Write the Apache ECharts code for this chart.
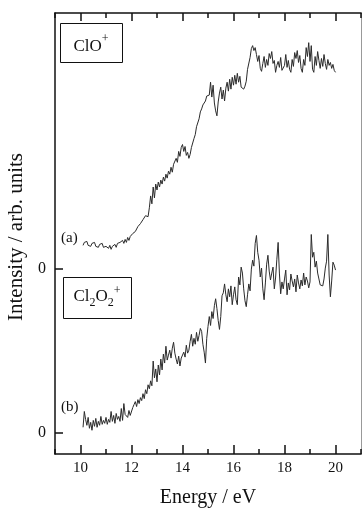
<!DOCTYPE html>
<html>
<head>
<meta charset="utf-8">
<script src="https://cdn.jsdelivr.net/npm/echarts@6/dist/echarts.min.js"></script>
<style>
  html, body { margin: 0; padding: 0; background: #fff; }
  #main { width: 362px; height: 513px; }
</style>
</head>
<body>
<div id="main"></div>
<script>
// energy grid of the spectra (eV)
const E_START = 10.1
const E_STEP = 0.05

// (a) ClO+ intensity, relative to its own zero line
const clo = [
  2.4, 2.7, 2.5, 2.8, 2.4, 2.6, 2.3, 2.6, 2.4, 2.7, 2.3, 2.5, 2.2, 2.5, 2.3, 2.6, 2.2, 2.4,
  2.3, 2.5, 2.1, 2.4, 2.0, 2.3, 2.1, 2.5, 2.2, 2.6, 2.4, 2.7, 2.5, 2.9, 2.6, 3.0, 2.7, 3.2, 2.9, 3.3,
  3.2, 3.6, 3.4, 3.8, 3.9, 4.3, 4.1, 4.6, 4.5, 5.0, 4.8, 5.4, 5.6, 5.3, 6.2, 7.4, 6.6, 8.3, 7.2, 8.6,
  8.0, 8.8, 8.3, 9.0, 8.6, 9.3, 8.9, 9.6, 9.2, 9.9, 9.6, 10.3, 9.8, 10.6, 10.4, 11.2, 10.8, 11.9, 11.4, 12.3,
  12.6, 11.9, 12.4, 11.5, 11.8, 11.2, 11.6, 12.3, 12.1, 13.2, 13.6, 14.4, 14.2, 15.2, 15.9, 16.2, 16.6, 16.4, 17.0, 17.5,
  17.3, 17.6, 18.9, 17.4, 18.6, 16.8, 16.0, 15.5, 16.9, 17.8, 18.4, 17.2, 18.1, 17.0, 18.3, 18.9, 18.0, 19.2, 18.2, 19.4,
  18.6, 19.6, 18.7, 19.8, 18.9, 19.5, 18.4, 18.6, 18.2, 18.5, 19.0, 20.2, 20.4, 21.4, 22.3, 22.6, 22.1, 22.4, 21.7, 21.0,
  21.6, 20.3, 20.0, 20.8, 21.5, 20.4, 21.2, 20.6, 21.8, 21.3, 22.0, 20.8, 21.1, 19.9, 20.6, 21.0, 20.4, 21.4, 20.1, 19.9,
  20.6, 21.7, 20.4, 21.1, 20.2, 19.9, 21.2, 20.5, 21.9, 21.3, 22.1, 20.9, 21.6, 20.3, 19.9, 21.2, 20.6, 22.4, 21.5, 22.9,
  21.0, 22.6, 20.2, 19.9, 21.5, 20.6, 22.0, 21.1, 20.3, 21.3, 20.5, 21.7, 20.8, 20.2, 21.2, 20.6, 20.9, 20.3, 20.7, 20.1,
  19.9
]

// (b) Cl2O2+ intensity
const cl2o2 = [
  0.6, 2.2, 1.4, 0.8, 1.6, 0.5, 1.1, 0.3, 1.3, 0.7, 1.5, 0.6, 1.2, 0.8, 1.7, 0.9, 1.3, 1.0,
  1.6, 0.9, 1.4, 1.1, 2.2, 1.2, 1.8, 1.0, 2.0, 1.4, 1.7, 1.2, 2.5, 1.3, 3.0, 1.9, 2.1, 1.6, 2.3, 1.8,
  2.0, 2.6, 2.9, 3.2, 2.7, 3.4, 3.0, 3.6, 3.3, 4.0, 3.5, 4.4, 4.0, 4.9, 4.5, 5.3, 4.8, 7.3, 5.6, 6.5,
  5.2, 6.9, 5.9, 7.5, 6.4, 8.0, 7.1, 8.8, 7.4, 7.9, 8.4, 7.6, 8.6, 9.2, 8.1, 7.5, 7.0, 7.8, 6.8, 7.6,
  7.4, 8.2, 7.7, 8.9, 8.1, 8.4, 9.3, 10.0, 8.8, 9.6, 9.0, 10.2, 9.3, 9.9, 10.6, 10.3, 9.0, 8.2, 7.1, 9.6,
  10.8, 11.8, 10.9, 12.3, 11.6, 12.9, 13.6, 12.6, 11.4, 10.5, 11.8, 13.9, 14.2, 15.1, 14.0, 13.3, 14.6, 13.8, 14.9, 13.0,
  14.0, 14.8, 13.5, 13.0, 15.8, 15.0, 16.8, 16.2, 14.6, 13.4, 12.8, 14.0, 15.1, 14.4, 16.6, 17.5, 16.9, 19.2, 20.0, 18.3,
  17.5, 15.8, 16.7, 14.6, 13.5, 15.2, 17.1, 18.0, 16.4, 15.5, 16.2, 16.8, 14.6, 15.7, 17.6, 19.3, 16.2, 14.1, 15.3, 14.6,
  15.6, 16.5, 14.0, 15.2, 14.5, 16.1, 15.4, 14.8, 15.6, 14.3, 16.0, 15.2, 14.6, 15.5, 14.9, 16.2, 15.0, 15.8, 15.4, 14.7,
  15.3, 20.1, 17.8, 18.3, 16.8, 17.4, 16.2, 15.6, 15.0, 14.8, 14.9, 15.6, 16.7, 17.4, 20.1, 16.0, 13.8, 15.4, 17.3, 17.0,
  16.5
]

// vertical shift of trace (a) above trace (b)
const OFFSET_A = 16.6
const xLabels = [10, 12, 14, 16, 18, 20]
const xMajor = [10, 12, 14, 16, 18, 20]

const toPairs = (arr, shift) => arr.map((v, i) => [+(E_START + i * E_STEP).toFixed(2), v + shift])

const serif = '"Liberation Serif", "DejaVu Serif", serif'
const ink = '#111'

const chart = echarts.init(document.getElementById('main'))

const baseX = {
  type: 'value',
  min: 9,
  max: 21,
  interval: 1,
  splitLine: { show: false }
}

const option = {
  animation: false,
  backgroundColor: '#fff',
  grid: { left: 55, right: 1, top: 13, bottom: 54 },
  xAxis: [
    {
      ...baseX,
      position: 'bottom',
      axisLine: { onZero: false, lineStyle: { color: ink, width: 1.5 } },
      axisTick: { show: true, inside: true, length: 5, lineStyle: { color: ink, width: 1.5 } },
      axisLabel: {
        customValues: xLabels,
        color: ink,
        fontFamily: serif,
        fontSize: 15,
        margin: 7
      },
      name: 'Energy / eV',
      nameLocation: 'middle',
      nameGap: 34,
      nameTextStyle: { color: ink, fontFamily: serif, fontSize: 20 }
    },
    {
      ...baseX,
      position: 'bottom',
      axisLine: { show: false, onZero: false },
      axisTick: { show: true, inside: true, length: 9, customValues: xMajor, lineStyle: { color: ink, width: 1.5 } },
      axisLabel: { show: false }
    },
    {
      ...baseX,
      position: 'top',
      axisLine: { onZero: false, lineStyle: { color: ink, width: 1.5 } },
      axisTick: { show: true, inside: true, length: 5, lineStyle: { color: ink, width: 1.5 } },
      axisLabel: { show: false }
    },
    {
      ...baseX,
      position: 'top',
      axisLine: { show: false, onZero: false },
      axisTick: { show: true, inside: true, length: 8, customValues: xMajor, lineStyle: { color: ink, width: 1.5 } },
      axisLabel: { show: false }
    }
  ],
  yAxis: [
    {
      type: 'value',
      min: -2.1,
      max: 42.5,
      position: 'left',
      splitLine: { show: false },
      axisLine: { show: true, onZero: false, lineStyle: { color: ink, width: 1.5 } },
      axisTick: { show: true, inside: true, length: 8, customValues: [0, OFFSET_A], lineStyle: { color: ink, width: 1.5 } },
      axisLabel: {
        customValues: [0, OFFSET_A],
        formatter: () => '0',
        color: ink,
        fontFamily: serif,
        fontSize: 16,
        margin: 9
      }
    },
    {
      type: 'value',
      min: -2.1,
      max: 42.5,
      position: 'right',
      splitLine: { show: false },
      axisLine: { show: true, onZero: false, lineStyle: { color: '#999', width: 1 } },
      axisTick: { show: false },
      axisLabel: { show: false }
    }
  ],
  series: [
    {
      name: 'ClO+',
      type: 'line',
      xAxisIndex: 0,
      yAxisIndex: 0,
      showSymbol: false,
      data: toPairs(clo, OFFSET_A),
      lineStyle: { color: '#2b2b2b', width: 1 }
    },
    {
      name: 'Cl2O2+',
      type: 'line',
      xAxisIndex: 0,
      yAxisIndex: 0,
      showSymbol: false,
      data: toPairs(cl2o2, 0),
      lineStyle: { color: '#2b2b2b', width: 1 }
    }
  ],
  graphic: [
    {
      type: 'text',
      x: 16,
      y: 237,
      rotation: Math.PI / 2,
      style: {
        text: 'Intensity / arb. units',
        fill: ink,
        font: '21px ' + serif,
        align: 'center',
        verticalAlign: 'middle'
      }
    },
    {
      type: 'rect',
      shape: { x: 60.5, y: 23.5, width: 62, height: 39 },
      style: { fill: '#fff', stroke: ink, lineWidth: 1 }
    },
    {
      type: 'text',
      x: 91,
      y: 44,
      style: {
        text: '{n|ClO}{sup|+}',
        align: 'center',
        verticalAlign: 'middle',
        rich: {
          n: { fontFamily: serif, fontSize: 17, fill: ink, lineHeight: 22, verticalAlign: 'bottom' },
          sup: { fontFamily: serif, fontSize: 12, fill: ink, lineHeight: 22, verticalAlign: 'top' }
        }
      }
    },
    {
      type: 'rect',
      shape: { x: 63.5, y: 277.5, width: 68, height: 41 },
      style: { fill: '#fff', stroke: ink, lineWidth: 1 }
    },
    {
      type: 'text',
      x: 97,
      y: 297,
      style: {
        text: '{n|Cl}{sub|2}{n|O}{sub|2}{sup|+}',
        align: 'center',
        verticalAlign: 'middle',
        rich: {
          n: { fontFamily: serif, fontSize: 17, fill: ink, lineHeight: 24, verticalAlign: 'middle' },
          sub: { fontFamily: serif, fontSize: 12, fill: ink, lineHeight: 24, verticalAlign: 'bottom' },
          sup: { fontFamily: serif, fontSize: 12, fill: ink, lineHeight: 24, verticalAlign: 'top' }
        }
      }
    },
    {
      type: 'text',
      x: 61,
      y: 238,
      style: { text: '(a)', fill: ink, font: '15px ' + serif, verticalAlign: 'middle' }
    },
    {
      type: 'text',
      x: 61,
      y: 407,
      style: { text: '(b)', fill: ink, font: '15px ' + serif, verticalAlign: 'middle' }
    }
  ]
}

chart.setOption(option)
</script>
</body>
</html>
